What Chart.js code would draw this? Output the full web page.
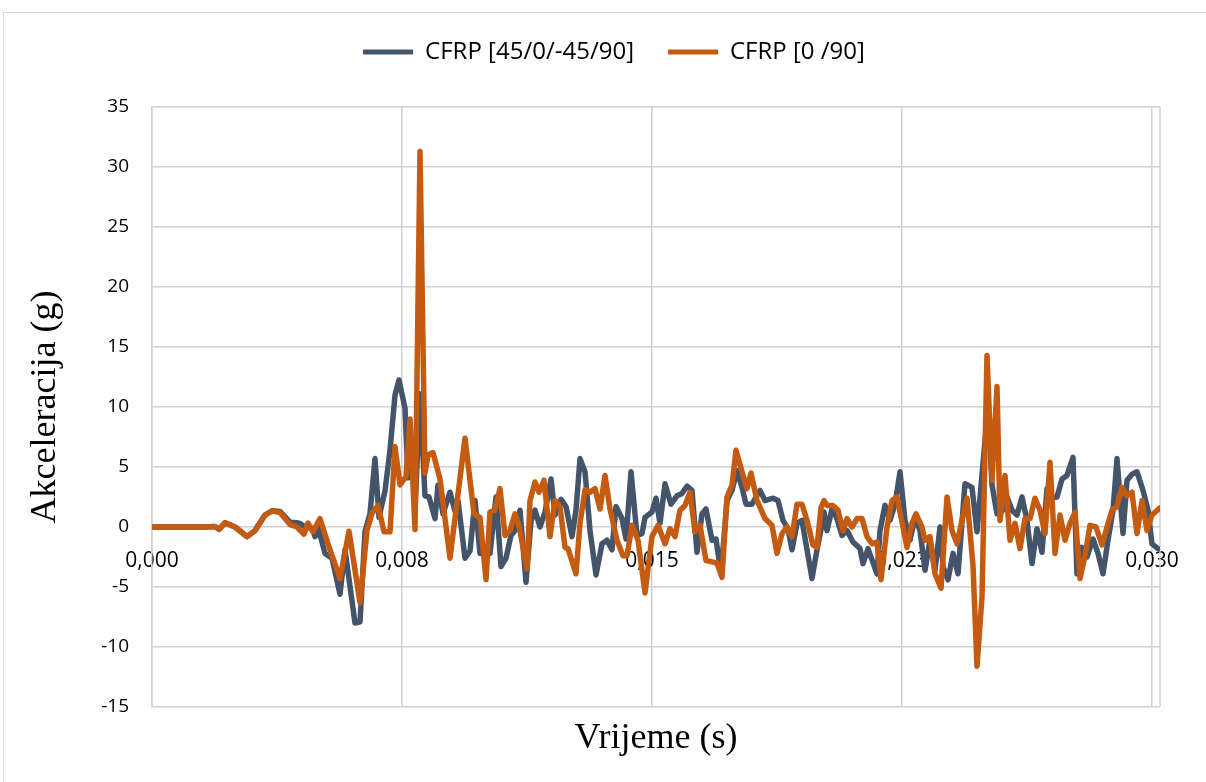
<!DOCTYPE html>
<html>
<head>
<meta charset="utf-8">
<script src="https://cdn.jsdelivr.net/npm/chart.js@4.4.1/dist/chart.umd.min.js"></script>
<style>
  html, body { margin: 0; padding: 0; background: #fff; overflow: hidden; }
  #frame { position: absolute; left: 3px; top: 12px; width: 1300px; height: 900px; border: 1px solid #d9d9d9; }
  #chart { position: absolute; left: 0; top: 0; }
</style>
</head>
<body>
<div id="frame"></div>
<canvas id="chart" width="1206" height="782"></canvas>
<script>
// time in ms, acceleration in g
var timeBlueMs = [
  0, 1.59, 1.89, 2.01, 2.19, 2.49, 2.85, 3.09, 3.39, 3.60,
  3.84, 4.14, 4.35, 4.44, 4.59, 4.80, 4.89, 4.98, 5.19, 5.40,
  5.64, 5.79, 6.09, 6.24, 6.39, 6.54, 6.69, 6.81, 6.99, 7.14,
  7.29, 7.41, 7.59, 7.68, 7.83, 7.89, 8.04, 8.19, 8.31, 8.49,
  8.58, 8.73, 8.94, 9.09, 9.18, 9.39, 9.54, 9.69, 9.84, 10.14,
  10.32, 10.47, 10.62, 10.77, 10.89, 11.04, 11.22, 11.37, 11.49, 11.64,
  11.79, 11.97, 12.09, 12.27, 12.42, 12.60, 12.72, 12.84, 12.99, 13.14,
  13.32, 13.50, 13.65, 13.80, 13.92, 14.10, 14.22, 14.37, 14.55, 14.70,
  14.79, 15.00, 15.12, 15.24, 15.39, 15.57, 15.75, 15.90, 16.05, 16.20,
  16.35, 16.50, 16.62, 16.80, 16.92, 17.07, 17.25, 17.40, 17.55, 17.70,
  17.82, 18.00, 18.24, 18.39, 18.63, 18.78, 18.93, 19.08, 19.20, 19.35,
  19.50, 19.65, 19.80, 19.95, 20.07, 20.16, 20.25, 20.40, 20.55, 20.70,
  20.85, 21.03, 21.24, 21.33, 21.48, 21.75, 21.84, 21.99, 22.14, 22.29,
  22.44, 22.59, 22.74, 22.89, 23.04, 23.19, 23.34, 23.49, 23.64, 23.73,
  23.88, 24.03, 24.18, 24.39, 24.60, 24.75, 25.08, 25.20, 25.35,
  25.50, 25.65, 25.80, 25.95, 26.10, 26.25, 26.40, 26.55, 26.70, 26.85,
  27.00, 27.15, 27.30, 27.45, 27.63, 27.75, 27.90, 28.05, 28.23, 28.38,
  28.53, 28.68, 28.83, 28.95, 29.13, 29.25, 29.40, 29.55, 29.73, 29.88,
  30.00, 30.18
];
var accBlue = [
  0, 0, 0.05, -0.2, 0.35, 0, -0.8, -0.3, 1.0, 1.35,
  1.3, 0.4, 0.35, 0.3, 0, -0.1, -0.8, 0, -2.2, -2.6,
  -5.6, -1.9, -8.0, -7.9, -0.4, 1.1, 5.7, 0.8, 3.0, 6.4,
  11.0, 12.25, 9.9, 4.1, 5.4, 1.3, 11.1, 2.6, 2.5, 0.7,
  3.5, 1.1, 2.9, 1.3, 2.2, -2.6, -2.0, 2.2, -2.2, -2.2,
  2.5, -3.3, -2.6, -0.7, -0.3, 1.4, -4.6, 0.5, 1.4, 0,
  1.25, 4.0, 1.0, 2.3, 1.7, -0.8, 1.4, 5.7, 4.6, -0.3,
  -4.0, -1.4, -1.1, -1.9, 1.7, 0.7, -1.0, 4.6, -0.7, -0.55,
  0.8, 1.25, 2.4, 0.3, 3.6, 1.9, 2.6, 2.8, 3.4, 3.05,
  -2.1, 1.1, 1.5, -1.1, -1.0, -3.9, 2.2, 3.05, 4.7, 3.3,
  1.9, 1.9, 3.05, 2.2, 2.4, 2.2, 0.55, -0.14, -1.9, 0.3,
  0.55, -1.9, -4.3, -1.9, -0.2, 1.25, -0.3, 1.5, 0.7, -0.7,
  -0.3, -1.25, -1.8, -3.05, -1.8, -3.9, -0.3, 1.8, 0.55, 1.9,
  4.6, 0.55, -1.1, 0.8, -0.3, -3.6, -1.1, -3.6, 0, -3.3,
  -4.4, -2.2, -3.9, 3.6, 3.3, -0.4, 10.0, 3.5, 1.1,
  1.3, 2.5, 1.4, 1.0, 2.5, 0.55, -3.05, -0.14, -2.1, 3.2,
  2.4, 2.5, 4.0, 4.3, 5.8, -3.9, -1.7, -2.5, -1.0, -2.2,
  -3.9, -1.1, 1.4, 5.7, -0.55, 3.9, 4.4, 4.6, 3.05, 1.4,
  -1.4, -1.8
];
var timeOrangeMs = [
  0, 1.59, 1.89, 2.01, 2.19, 2.49, 2.85, 3.09, 3.39, 3.60,
  3.84, 4.14, 4.35, 4.44, 4.56, 4.68, 4.83, 5.04, 5.28, 5.64,
  5.91, 6.24, 6.45, 6.60, 6.78, 6.96, 7.14, 7.29, 7.44, 7.62,
  7.74, 7.89, 8.04, 8.19, 8.28, 8.43, 8.64, 8.94, 9.39, 9.66,
  9.84, 10.02, 10.14, 10.29, 10.44, 10.59, 10.74, 10.89, 11.01, 11.25,
  11.34, 11.49, 11.61, 11.76, 11.94, 12.09, 12.24, 12.39, 12.48, 12.72,
  12.84, 12.99, 13.14, 13.29, 13.44, 13.59, 13.74, 13.95, 14.13, 14.25,
  14.40, 14.58, 14.79, 15.00, 15.18, 15.39, 15.54, 15.69, 15.84, 15.99,
  16.14, 16.29, 16.44, 16.62, 16.80, 16.95, 17.10, 17.25, 17.40, 17.52,
  17.70, 17.85, 17.97, 18.15, 18.39, 18.60, 18.75, 18.90, 19.05, 19.20,
  19.35, 19.50, 19.65, 19.83, 19.95, 20.07, 20.16, 20.25, 20.43, 20.58,
  20.73, 20.85, 21.00, 21.15, 21.30, 21.45, 21.60, 21.75, 21.87, 22.05,
  22.20, 22.35, 22.53, 22.65, 22.80, 22.92, 23.10, 23.19, 23.34, 23.49,
  23.67, 23.85, 24.00, 24.15, 24.30, 24.45, 24.63, 24.75, 24.90, 25.05,
  25.20, 25.35, 25.44, 25.59, 25.74, 25.89, 26.04, 26.19, 26.34, 26.49,
  26.64, 26.79, 26.94, 27.09, 27.24, 27.39, 27.54, 27.69, 27.84, 27.99,
  28.14, 28.32, 28.50, 28.65, 28.80, 28.95, 29.10, 29.25, 29.40, 29.55,
  29.70, 29.85, 30.00, 30.24
];
var accOrange = [
  0, 0, 0.05, -0.2, 0.35, 0, -0.8, -0.3, 1.0, 1.35,
  1.2, 0.2, 0, -0.28, -0.6, 0.33, -0.4, 0.7, -1.4, -4.3,
  -0.35, -6.3, -0.3, 1.15, 1.8, -0.4, -0.4, 6.7, 3.5, 4.2,
  9.0, -0.2, 31.3, 4.5, 6.0, 6.2, 4.0, -2.6, 7.4, 1.1,
  0.8, -4.4, 1.25, 1.4, 3.2, -0.7, -0.3, 1.1, 0.1, -3.5,
  2.2, 3.75, 2.9, 3.9, -0.8, 2.2, 1.7, -1.7, -1.8, -3.9,
  0.3, 3.1, 2.9, 3.2, 1.5, 4.3, 1.5, -1.1, -2.4, -2.4,
  0.14, -1.1, -5.5, -0.8, 0.14, -1.4, -0.14, -0.8, 1.4, 1.8,
  2.9, -0.4, 0.14, -2.8, -2.9, -3.0, -4.2, 2.5, 3.5, 6.4,
  4.6, 3.2, 4.5, 2.2, 0.7, 0.14, -2.2, -0.55, 0, -0.8,
  1.9, 1.9, 0.55, -1.5, -1.7, 1.6, 2.2, 1.8, 1.8, 1.4,
  -0.3, 0.7, 0, 0.7, 0.7, -0.8, -1.4, -1.25, -4.4, 0,
  2.2, 2.5, 0, -1.7, 0.3, 1.1, 0, -1.1, -0.8, -3.9,
  -5.1, 2.5, -0.3, -1.4, 0.55, 2.4, -3.2, -11.6, -5.8, 14.3,
  3.9, 11.7, 0.55, 4.3, -1.1, 0.3, -1.8, 0.7, 0.7, 2.4,
  1.4, -0.55, 5.4, -2.2, 1.0, -1.1, 0.3, 1.25, -4.3, -2.4,
  0.14, 0, -1.5, 0, 1.4, 1.7, 3.3, 2.6, 2.9, -0.55,
  2.2, -0.3, 1.0, 1.6
];
var seriesNames = ["CFRP [45/0/-45/90]", "CFRP [0 /90]"];
var xTicks = [0, 0.0075, 0.015, 0.0225, 0.030];
var xTickLabels = ["0,000", "0,008", "0,015", "0,023", "0,030"];

var gridColor = "#d0d0d0";

function points(times, values) {
  return times.map(function (t, i) {
    return { x: t / 1000, y: values[i] };
  });
}

// make the legend take the whole band above the plot
var legendSpace = {
  id: "legendSpace",
  beforeLayout: function (chart) {
    var legend = chart.legend;
    if (legend && !legend._patched) {
      var fit = legend.fit;
      legend.fit = function () {
        fit.call(this);
        this.height = 101;
      };
      legend._patched = true;
    }
  },
  afterLayout: function (chart) {
    // legend sits a bit right of the plot centre in the original
    chart.legend.left += 34;
    chart.legend.right += 34;
  },
};

// right edge of the plot area
var plotEdge = {
  id: "plotEdge",
  beforeDatasetsDraw: function (chart) {
    var a = chart.chartArea;
    var ctx = chart.ctx;
    ctx.save();
    ctx.strokeStyle = gridColor;
    ctx.lineWidth = 1.5;
    ctx.beginPath();
    ctx.moveTo(a.right, a.top);
    ctx.lineTo(a.right, a.bottom);
    ctx.stroke();
    ctx.restore();
  },
};

var config = {
  type: "line",
  data: {
    datasets: [
      {
        label: seriesNames[0],
        data: points(timeBlueMs, accBlue),
        borderColor: "#44546A",
        backgroundColor: "#44546A",
        borderWidth: 5.5,
        order: 2,
        xAxisID: "x",
        yAxisID: "y",
      },
      {
        label: seriesNames[1],
        data: points(timeOrangeMs, accOrange),
        borderColor: "#C55A11",
        backgroundColor: "#C55A11",
        borderWidth: 5.5,
        order: 1,
        xAxisID: "x",
        yAxisID: "y",
      },
    ],
  },
  options: {
    responsive: false,
    animation: false,
    layout: { padding: { top: 6, right: 46, bottom: 0, left: 0 } },
    elements: {
      point: { radius: 0 },
      line: { tension: 0, borderJoinStyle: "round", borderCapStyle: "round" },
    },
    plugins: {
      tooltip: { enabled: false },
      legend: {
        position: "top",
        labels: {
          font: { family: "Open Sans", size: 24 },
          color: "#000",
          boxWidth: 50,
          boxHeight: 5,
          padding: 34,
          sort: function (a, b) {
            return a.datasetIndex - b.datasetIndex;
          },
          generateLabels: function (chart) {
            var items = Chart.defaults.plugins.legend.labels.generateLabels(chart);
            items.forEach(function (it) {
              it.lineWidth = 0;
              it.fillStyle = it.strokeStyle;
            });
            return items;
          },
        },
      },
    },
    scales: {
      x: {
        type: "linear",
        position: { y: 0 },
        min: 0,
        max: 0.03024,
        afterBuildTicks: function (scale) {
          scale.ticks = xTicks.map(function (v) {
            return { value: v };
          });
        },
        ticks: {
          autoSkip: false,
          maxRotation: 0,
          padding: 21,
          color: "#000",
          font: { family: "Open Sans", size: 21 },
          callback: function (value, index) {
            return xTickLabels[index];
          },
        },
        grid: { color: gridColor, lineWidth: 1.5, drawTicks: false },
        border: { display: false },
      },
      xTitle: {
        type: "linear",
        position: "bottom",
        ticks: { display: false },
        grid: { display: false, drawTicks: false },
        border: { display: false },
        title: {
          display: true,
          text: "Vrijeme (s)",
          color: "#000",
          font: { family: "Liberation Serif", size: 36 },
          padding: { top: 0, bottom: 22 },
        },
        afterFit: function (scale) {
          scale.height = 75;
        },
      },
      y: {
        type: "linear",
        min: -15,
        max: 35,
        ticks: {
          stepSize: 5,
          padding: 23,
          color: "#000",
          font: { family: "Open Sans", size: 19 },
        },
        grid: { color: gridColor, lineWidth: 1.5, drawTicks: false },
        border: { color: gridColor, width: 1.5 },
        title: {
          display: true,
          text: "Akceleracija (g)",
          color: "#000",
          font: { family: "Liberation Serif", size: 36 },
          padding: { top: 24, bottom: 0 },
        },
        afterFit: function (scale) {
          scale.width = 152;
        },
      },
    },
  },
  plugins: [legendSpace, plotEdge],
};

var canvas = document.getElementById("chart");
canvas.chart = new Chart(canvas.getContext("2d"), config);
</script>
</body>
</html>
